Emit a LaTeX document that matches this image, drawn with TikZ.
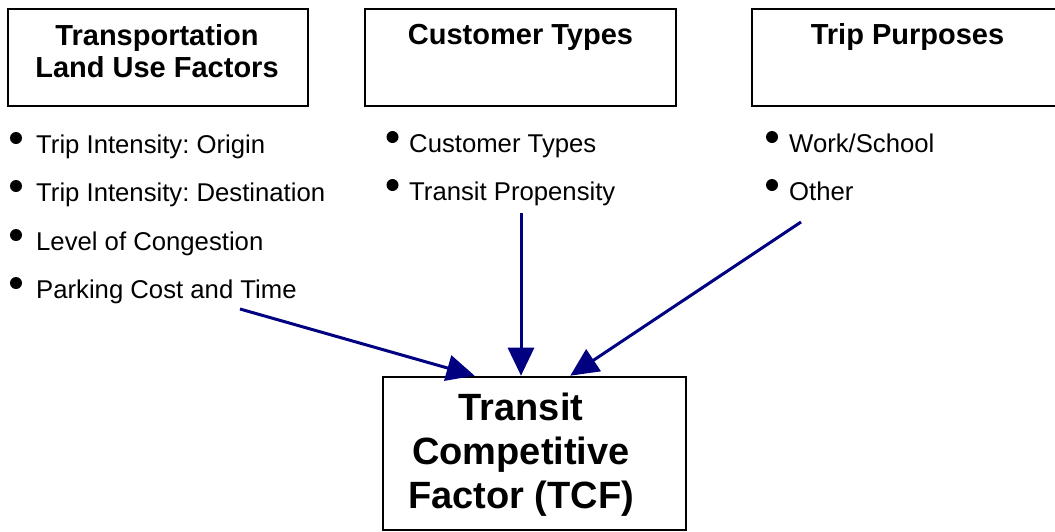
\documentclass[tikz,border=0pt]{standalone}
\usepackage{fontspec}
\setmainfont{Liberation Sans}
\usetikzlibrary{arrows.meta,calc}
\definecolor{arrowblue}{RGB}{0,0,128}
\frenchspacing
\tikzset{
  box/.style={draw=black, line width=2.6pt, rectangle, inner sep=0pt},
  titletext/.style={font=\fontsize{29}{32}\selectfont\bfseries, align=center, anchor=base, inner sep=0pt},
  bigtext/.style={font=\fontsize{38}{44}\selectfont\bfseries, align=center, anchor=base, inner sep=0pt},
  itemtext/.style={font=\fontsize{25.7}{30}\selectfont, anchor=base west, inner sep=0pt},
  dot/.style={fill=black},
  flow/.style={draw=arrowblue, line width=3pt, -{Triangle[length=28pt,width=26pt]}, arrowblue}
}
\begin{document}
\begin{tikzpicture}[x=1pt,y=-1pt]
\useasboundingbox (0,0) rectangle (1055,531);
% top boxes
\node[box, minimum width=300pt, minimum height=97pt] (b1) at (158,57.5) {};
\node[box, minimum width=311pt, minimum height=97pt] (b2) at (520.5,57.5) {};
\node[box, minimum width=311pt, minimum height=97pt] (b3) at (907.5,57.5) {};
\node[titletext] (t1) at (157,77) {Transportation\\Land Use Factors};
\node[titletext] (t2) at (520.5,44) {Customer Types};
\node[titletext] (t3) at (907.5,44) {Trip Purposes};
% bullets column 1
\foreach \y/\txt [count=\i] in {153/{Trip Intensity: Origin},201/{Trip Intensity: Destination},250/{Level of Congestion},298/{Parking Cost and Time}}{
  \fill[dot] (16,\y-15) circle (6pt);
  \node[itemtext] (l\i) at (36,\y) {\txt};
}
% bullets column 2
\foreach \y/\txt [count=\i] in {152/{Customer Types},200/{Transit Propensity}}{
  \fill[dot] (392.5,\y-15) circle (6pt);
  \node[itemtext] (m\i) at (409,\y) {\txt};
}
% bullets column 3
\foreach \y/\txt [count=\i] in {152/{Work/School},200/{Other}}{
  \fill[dot] (772,\y-15) circle (6pt);
  \node[itemtext] (r\i) at (789,\y) {\txt};
}
% bottom box
\node[box, minimum width=303pt, minimum height=153pt] (tcf) at (534.5,453.5) {};
\node[bigtext] (tcftext) at (521,508) {Transit\\Competitive\\Factor (TCF)};
% arrows
\coordinate (s1) at (240,309);
\coordinate (s2) at (521,213);
\coordinate (s3) at (801,222);
\draw[flow] (s1) -- ($(tcf.north west)!0.304!(tcf.north east)$);
\draw[flow] (s2) -- (s2 |- tcf.north);
\draw[flow] (s3) -- ($(tcf.north west)!0.617!(tcf.north east)$);
\end{tikzpicture}
\end{document}
